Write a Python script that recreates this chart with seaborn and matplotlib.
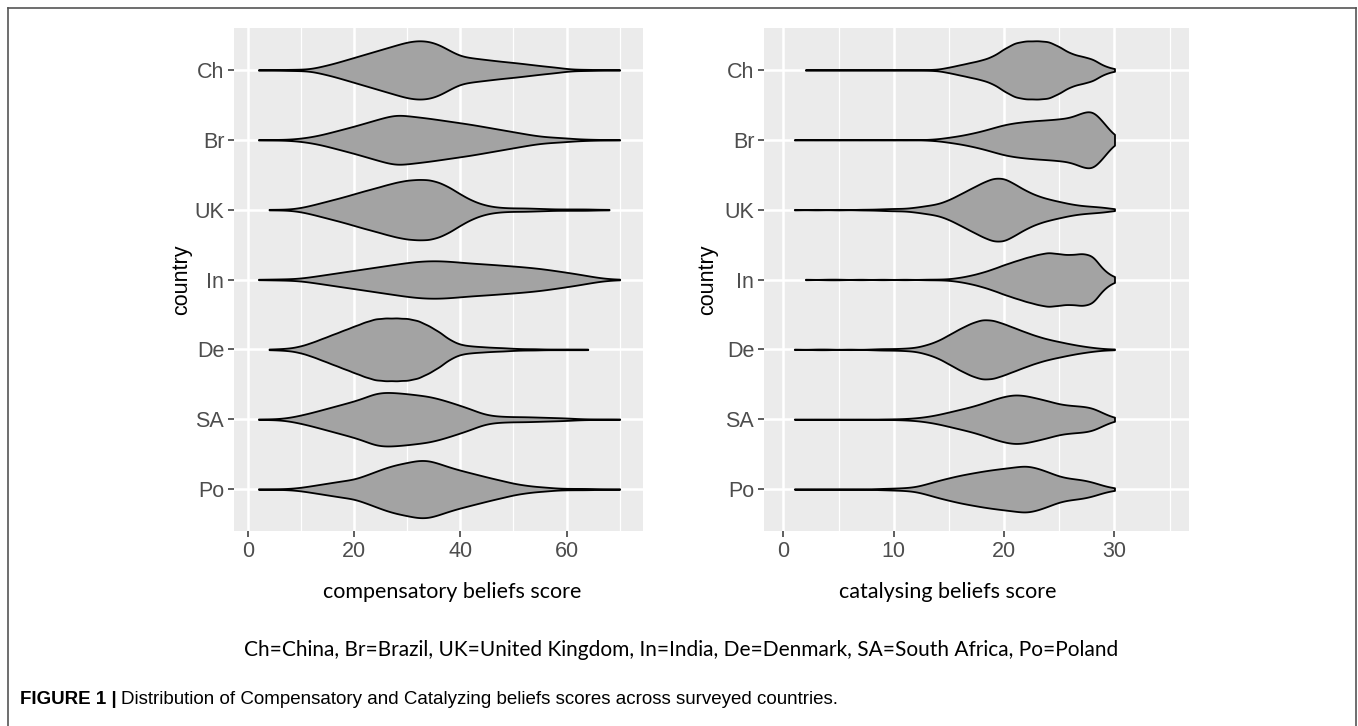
import numpy as np
import pandas as pd
import matplotlib
matplotlib.use("Agg")
import matplotlib.pyplot as plt
import seaborn as sns
from matplotlib.lines import Line2D

# Countries, top to bottom
countries = ["Ch", "Br", "UK", "In", "De", "SA", "Po"]

# Compensatory beliefs score: score values and counts
comp_scores = [2, 4, 6, 8, 10, 12, 14, 16, 18, 20, 22, 24, 26, 28, 30, 32, 34, 36,
               38, 40, 42, 44, 46, 48, 50, 52, 54, 56, 58, 60, 62, 64, 66, 68, 70]
comp_ch = [1, 1, 1, 2, 2, 4, 12, 20, 30, 40, 50, 60, 70, 80, 90, 95, 93, 82,
           62, 44, 39, 35, 31, 27, 24, 20, 16, 12, 9, 4, 2, 2, 1, 1, 1]
comp_br = [1, 1, 1, 2, 5, 10, 17, 26, 35, 44, 54, 64, 74, 82, 78, 74, 70, 65,
           60, 55, 50, 44, 38, 32, 26, 20, 14, 10, 8, 6, 3, 2, 1, 1, 1]
comp_uk = [0, 1, 1, 2, 6, 13, 21, 29, 37, 46, 55, 63, 72, 80, 86, 88, 88, 80,
           65, 45, 28, 16, 9, 6, 5, 5, 4, 3, 2, 2, 2, 2, 1, 1, 0]
comp_in = [1, 1, 2, 2, 4, 9, 14, 19, 24, 29, 34, 39, 44, 49, 54, 58, 60, 60,
           58, 55, 52, 50, 48, 45, 43, 40, 37, 33, 28, 23, 18, 12, 6, 2, 1]
comp_de = [0, 1, 2, 4, 10, 20, 32, 44, 56, 68, 80, 90, 92, 92, 91, 85, 70, 52,
           28, 14, 10, 8, 6, 5, 3, 2, 2, 1, 1, 1, 1, 1, 0, 0, 0]
comp_sa = [1, 1, 2, 6, 13, 21, 30, 39, 48, 57, 68, 82, 85, 83, 80, 76, 72, 64,
           54, 43, 32, 18, 11, 9, 8, 8, 7, 6, 5, 4, 2, 1, 1, 1, 1]
comp_po = [1, 1, 1, 2, 5, 10, 15, 20, 25, 29, 40, 52, 64, 73, 79, 86, 86, 76,
           65, 56, 48, 40, 32, 25, 17, 12, 8, 6, 3, 2, 2, 2, 1, 1, 1]

# Catalysing beliefs score
cat_scores = [1, 2, 3, 4, 5, 6, 7, 8, 9, 10, 11, 12, 13, 14, 15,
              16, 17, 18, 19, 20, 21, 22, 23, 24, 25, 26, 27, 28, 29, 30]
cat_ch = [0, 1, 0, 1, 1, 0, 0, 1, 1, 0, 1, 1, 1, 2, 8,
          15, 22, 29, 40, 62, 80, 85, 85, 84, 68, 48, 40, 33, 12, 3]
cat_br = [1, 0, 1, 0, 1, 0, 1, 0, 1, 0, 1, 0, 1, 3, 8,
          13, 20, 28, 38, 48, 54, 58, 61, 63, 66, 70, 85, 97, 55, 10]
cat_uk = [1, 0, 1, 0, 1, 0, 1, 1, 2, 3, 3, 6, 10, 14, 24,
          38, 52, 66, 78, 78, 62, 46, 34, 26, 20, 14, 10, 8, 6, 2]
cat_in = [0, 1, 0, 1, 1, 0, 1, 0, 1, 0, 1, 0, 1, 1, 2,
          6, 12, 20, 30, 42, 52, 62, 70, 77, 72, 69, 74, 70, 25, 6]
cat_de = [1, 0, 1, 1, 0, 1, 0, 1, 2, 2, 3, 5, 12, 22, 38,
          54, 68, 78, 76, 66, 55, 44, 34, 26, 20, 14, 9, 5, 2, 1]
cat_sa = [1, 0, 1, 0, 1, 0, 1, 0, 1, 1, 2, 4, 8, 14, 22,
          30, 38, 48, 60, 70, 76, 72, 64, 56, 46, 42, 40, 36, 18, 4]
cat_po = [1, 0, 1, 0, 0, 1, 0, 1, 2, 3, 4, 7, 16, 26, 34,
          42, 48, 54, 59, 63, 67, 72, 64, 52, 38, 32, 29, 22, 10, 3]

legend_line = ("Ch=China, Br=Brazil, UK=United Kingdom, In=India, De=Denmark, "
               "SA=South Africa, Po=Poland")


def make_long(scores, count_lists):
    parts = []
    for name, counts in zip(countries, count_lists):
        parts.append(pd.DataFrame({"country": name,
                                   "score": np.repeat(scores, counts)}))
    return pd.concat(parts, ignore_index=True)


comp_df = make_long(comp_scores, [comp_ch, comp_br, comp_uk, comp_in,
                                  comp_de, comp_sa, comp_po])
cat_df = make_long(cat_scores, [cat_ch, cat_br, cat_uk, cat_in,
                                cat_de, cat_sa, cat_po])

plt.rcParams["font.family"] = ["Liberation Sans", "DejaVu Sans"]

W, H = 1358, 726
fig = plt.figure(figsize=(W / 100, H / 100), dpi=100)
ax1 = fig.add_axes([234 / W, 1 - 531 / H, 409 / W, 503 / H])
ax2 = fig.add_axes([764 / W, 1 - 531 / H, 425 / W, 503 / H])


def draw_panel(ax, df, bw):
    sns.violinplot(data=df, x="score", y="country", order=countries,
                   orient="h", color="#A3A3A3", saturation=1,
                   linecolor="black", linewidth=1.3, width=0.9, cut=0,
                   gridsize=400, bw_method=bw, density_norm="area",
                   inner=None, ax=ax)


def style_panel(ax, xlim, major, minor):
    ax.set_facecolor("#EBEBEB")
    ax.set_xlim(*xlim)
    ax.set_ylim(6.6, -0.6)
    ax.set_xticks(major)
    ax.set_xticks(minor, minor=True)
    ax.set_xticklabels([str(v) for v in major])
    ax.grid(which="major", color="white", lw=1.8)
    ax.grid(which="minor", axis="x", color="white", lw=0.9)
    ax.set_axisbelow(True)
    for s in ax.spines.values():
        s.set_visible(False)
    ax.tick_params(which="major", length=4, width=1.1, color="#333333",
                   labelcolor="#4D4D4D", labelsize=15.5, pad=3)
    ax.tick_params(which="minor", length=0)
    ax.set_xlabel("")
    ax.set_ylabel("")


draw_panel(ax1, comp_df, 0.14)
draw_panel(ax2, cat_df, 0.165)
style_panel(ax1, (-2.6, 74.4), [0, 20, 40, 60], [10, 30, 50, 70])
style_panel(ax2, (-1.75, 36.75), [0, 10, 20, 30], [5, 15, 25, 35])

# axis titles
lato = ["Lato", "DejaVu Sans"]
for x in (182, 708):
    fig.text(x / W, 1 - 280 / H, "country", rotation=90, ha="center",
             va="center", fontsize=15.5, color="black")
fig.text(452 / W, 1 - 592 / H, "compensatory beliefs score", ha="center",
         va="center", fontsize=15.5, family=lato)
fig.text(948 / W, 1 - 592 / H, "catalysing beliefs score", ha="center",
         va="center", fontsize=15.5, family=lato)
fig.text(681 / W, 1 - 650 / H, legend_line, ha="center", va="center",
         fontsize=15, family=lato)

# caption
cap = fig.text(20 / W, 1 - 700 / H, "FIGURE 1 |", ha="left", va="center",
               fontsize=13.5, weight="bold")
ax1.annotate("Distribution of Compensatory and Catalyzing beliefs scores "
             "across surveyed countries.", xy=(1, 0), xycoords=cap,
             xytext=(3, 0), textcoords="offset points", ha="left",
             va="bottom", fontsize=13.5, annotation_clip=False)

# frame around the figure
for xs, ys in (([8 / W, 8 / W], [0, 1 - 8 / H]),
               ([8 / W, 1356 / W], [1 - 8 / H, 1 - 8 / H]),
               ([1356 / W, 1356 / W], [0, 1 - 8 / H])):
    fig.add_artist(Line2D(xs, ys, color="#555555", lw=1.2,
                          transform=fig.transFigure))

fig.savefig("out.png", dpi=100)
